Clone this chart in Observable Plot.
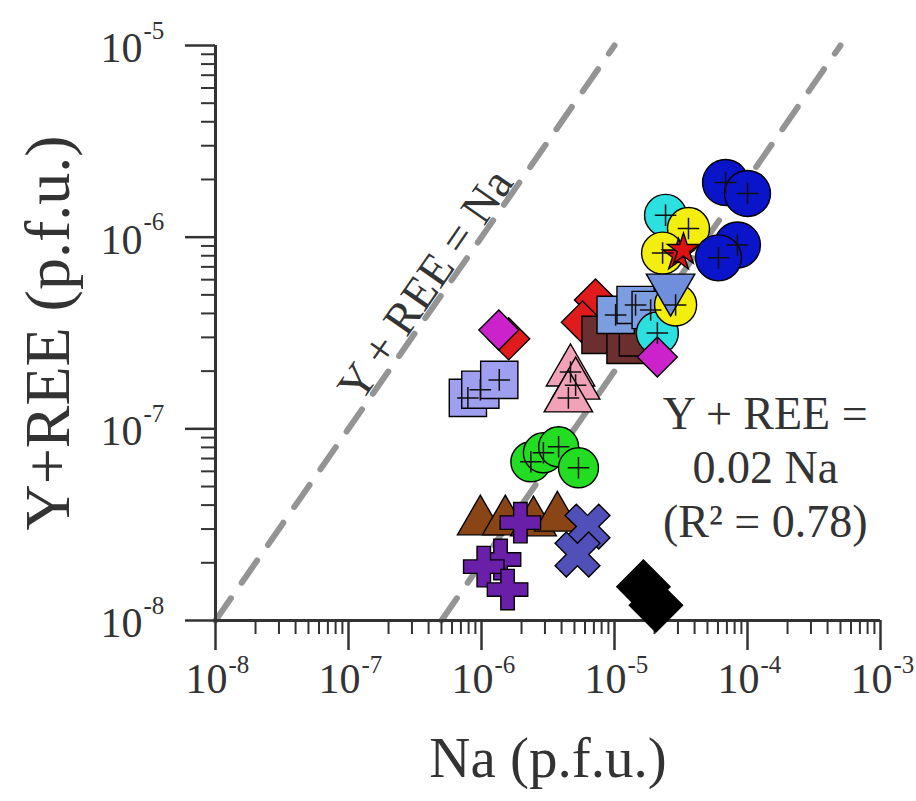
<!DOCTYPE html>
<html>
<head>
<meta charset="utf-8">
<script src="https://cdn.jsdelivr.net/npm/d3@7"></script>
<script src="https://cdn.jsdelivr.net/npm/@observablehq/plot@0.6"></script>
<style>
  html, body { margin: 0; padding: 0; background: #fff; }
  #chart svg { display: block; }
</style>
</head>
<body>
<div id="chart"></div>
<script>
// ---- axis ticks ----
const xMajorTicks = [1e-8, 1e-7, 1e-6, 1e-5, 1e-4, 1e-3];
const yMajorTicks = [1e-8, 1e-7, 1e-6, 1e-5];
const xTickExponents = ["-8", "-7", "-6", "-5", "-4", "-3"];
const yTickExponents = ["-8", "-7", "-6", "-5"];
const xTitle = "Na (p.f.u.)";
const yTitle = "Y+REE (p.f.u.)";

// ---- reference lines ----
const oneToOneLabel = "Y + REE = Na";
const fitSlope = 0.02;
const fitLabel = "Y + REE =\n0.02 Na\n(R\u00B2 = 0.78)";

// ---- data series (Na, Y+REE in p.f.u.) ----
const blueNa = [6.84e-5, 1.0e-4, 8.4e-5, 6.05e-5];
const blueY  = [1.93e-6, 1.69e-6, 9.1e-7, 7.8e-7];
const cyanNa = [2.42e-5, 2.1e-5];
const cyanY  = [1.30e-6, 3.16e-7];
const yellowNa = [3.6e-5, 2.3e-5, 2.88e-5];
const yellowY  = [1.11e-6, 8.26e-7, 4.43e-7];
const redStarNa = [3.03e-5, 3.3e-5];
const redStarY  = [8.05e-7, 8.6e-7];
const steelTriNa = [2.64e-5];
const steelTriY  = [5.42e-7];
const lightSqNa = [1.02e-5, 1.44e-5, 1.87e-5];
const lightSqY  = [3.93e-7, 4.43e-7, 4.17e-7];
const brownSqNa = [7.85e-6, 1.21e-5, 1.5e-5];
const brownSqY  = [3.09e-7, 2.74e-7, 3.0e-7];
const redDiaNa = [7.2e-6, 5.74e-6, 1.6e-6];
const redDiaY  = [4.7e-7, 3.6e-7, 2.95e-7];
const magDiaNa = [1.35e-6, 2.1e-5];
const magDiaY  = [3.28e-7, 2.37e-7];
const lavSqNa = [7.9e-7, 9.8e-7, 1.36e-6];
const lavSqY  = [1.45e-7, 1.6e-7, 1.8e-7];
const pinkTriNa = [4.67e-6, 5.1e-6, 4.5e-6];
const pinkTriY  = [1.98e-7, 1.69e-7, 1.45e-7];
const greenNa = [2.35e-6, 2.92e-6, 3.8e-6, 5.36e-6];
const greenY  = [6.73e-8, 7.5e-8, 8.06e-8, 6.26e-8];
const brownTriNa = [9.8e-7, 1.51e-6, 2.46e-6, 3.72e-6];
const brownTriY  = [3.28e-8, 3.28e-8, 3.24e-8, 3.43e-8];
const purplePlusNa = [1.96e-6, 1.39e-6, 1.04e-6, 1.57e-6];
const purplePlusY  = [3.24e-8, 2.08e-8, 1.91e-8, 1.45e-8];
const blueXNa = [6.27e-6, 5.27e-6];
const blueXY  = [3.09e-8, 2.21e-8];
const blackDiaNa = [1.65e-5, 2.05e-5];
const blackDiaY  = [1.5e-8, 1.2e-8];

// ---- build tables ----
const rows = (na, y) => na.map((v, i) => ({na: v, y: y[i]}));
const xDomain = [xMajorTicks[0], xMajorTicks[xMajorTicks.length - 1]];
const yDomain = [yMajorTicks[0], yMajorTicks[yMajorTicks.length - 1]];
const minorOf = (majors) => majors.slice(0, -1).flatMap(m => [2,3,4,5,6,7,8,9].map(k => k * m));
const xMinor = minorOf(xMajorTicks);
const yMinor = minorOf(yMajorTicks);
const oneToOne = [{na: yDomain[0], y: yDomain[0]}, {na: yDomain[1], y: yDomain[1]}];
const fitLine = [{na: yDomain[0] / fitSlope, y: yDomain[0]}, {na: yDomain[1] / fitSlope, y: yDomain[1]}];

const serif = '"Liberation Serif", "Times New Roman", Times, serif';
const ink = "#333333";
const dashGray = "#949494";
const outline = {stroke: "#000", strokeWidth: 1.4};

function series(na, y, symbol, fill, r, extra = {}) {
  return Plot.dot(rows(na, y), {x: "na", y: "y", symbol, fill, r, ...outline, ...extra});
}
function cross(na, y, r = 7) {
  return Plot.dot(rows(na, y), {x: "na", y: "y", symbol: "plus", stroke: "#111", strokeWidth: 1.5, r});
}

const chart = Plot.plot({
  width: 916,
  height: 801,
  marginLeft: 215,
  marginRight: 36,
  marginTop: 45,
  marginBottom: 181,
  x: {type: "log", domain: xDomain},
  y: {type: "log", domain: yDomain},
  style: {fontFamily: serif, background: "#fff", color: ink, overflow: "visible"},
  marks: [
    // reference lines
    Plot.line(oneToOne, {x: "na", y: "y", stroke: dashGray, strokeWidth: 6, strokeDasharray: "27,19"}),
    Plot.line(fitLine, {x: "na", y: "y", stroke: dashGray, strokeWidth: 6, strokeDasharray: "27,19"}),

    // axes: minor and major ticks
    Plot.axisX({ticks: xMinor, tickSize: 14, tickFormat: () => "", stroke: ink, strokeWidth: 2, label: null}),
    Plot.axisX({ticks: xMajorTicks, tickSize: 30, tickFormat: () => "", stroke: ink, strokeWidth: 2.5, label: null}),
    Plot.axisY({ticks: yMinor, tickSize: 14, tickFormat: () => "", stroke: ink, strokeWidth: 2, label: null}),
    Plot.axisY({ticks: yMajorTicks, tickSize: 30, tickFormat: () => "", stroke: ink, strokeWidth: 2.5, label: null}),
    Plot.ruleY([yDomain[0]], {stroke: ink, strokeWidth: 3}),
    Plot.ruleX([xDomain[0]], {stroke: ink, strokeWidth: 3}),

    // tick labels: base and exponent
    Plot.text(xMajorTicks, {x: d => d, frameAnchor: "bottom", text: () => "10", textAnchor: "end", dx: 12, dy: 72, fontSize: 42, fill: ink}),
    Plot.text(xMajorTicks, {x: d => d, frameAnchor: "bottom", text: (d, i) => xTickExponents[i], textAnchor: "start", dx: 13, dy: 52, fontSize: 25, fill: ink}),
    Plot.text(yMajorTicks, {y: d => d, frameAnchor: "left", text: () => "10", textAnchor: "end", dx: -73, dy: 3, fontSize: 42, fill: ink}),
    Plot.text(yMajorTicks, {y: d => d, frameAnchor: "left", text: (d, i) => yTickExponents[i], textAnchor: "start", dx: -72, dy: -15, fontSize: 25, fill: ink}),

    // axis titles
    Plot.text([xTitle], {frameAnchor: "bottom", text: d => d, textAnchor: "middle", dy: 156, fontSize: 57, fill: ink}),
    Plot.text([yTitle], {frameAnchor: "left", text: d => d, textAnchor: "middle", dx: -167, dy: 0, rotate: -90, fontSize: 64, fill: ink}),

    // data
    series(redDiaNa, redDiaY, "diamond2", "#e01b1b", 19),
    series(brownSqNa, brownSqY, "square", "#6b2f2f", 21),
    series(lightSqNa, lightSqY, "square", "#7c9de0", 21),
    series(cyanNa, cyanY, "circle", "#2de0e0", 21),
    series(magDiaNa, magDiaY, "diamond2", "#cc22cc", 18),
    series(yellowNa, yellowY, "circle", "#f4ee10", 21),
    series(steelTriNa, steelTriY, "triangle", "#6f8fdc", 18, {rotate: 180}),
    series(redStarNa, redStarY, "star", "#dd1111", 10),
    series(blueNa, blueY, "circle", "#0a14c8", 23),
    series(lavSqNa, lavSqY, "square", "#9f9fef", 21),
    series(pinkTriNa, pinkTriY, "triangle", "#f2a2b8", 18),
    series(greenNa, greenY, "circle", "#22dd22", 20),
    series(brownTriNa, brownTriY, "triangle", "#8a4516", 17),
    series(purplePlusNa, purplePlusY, "cross", "#6a1fa8", 17),
    series(blueXNa, blueXY, "cross", "#5050b8", 20, {rotate: 45}),
    series(blackDiaNa, blackDiaY, "diamond2", "#000000", 24),

    // crosshairs (error marks) inside symbols
    cross(yellowNa, yellowY),
    cross(blueNa, blueY),
    cross(lightSqNa, lightSqY),
    cross(lavSqNa, lavSqY),
    cross(pinkTriNa, pinkTriY),
    cross(greenNa, greenY),
    cross(cyanNa, cyanY),

    // annotations
    Plot.text([oneToOneLabel], {x: () => 3.79e-7, y: () => 5.62e-7, text: d => d, rotate: -55.2, fontSize: 46, fill: ink}),
    Plot.text([fitLabel], {x: () => 1.36e-4, y: () => 6.41e-8, text: d => d, fontSize: 46, lineHeight: 1.17, fill: ink})
  ]
});
document.getElementById("chart").appendChild(chart);
</script>
</body>
</html>
